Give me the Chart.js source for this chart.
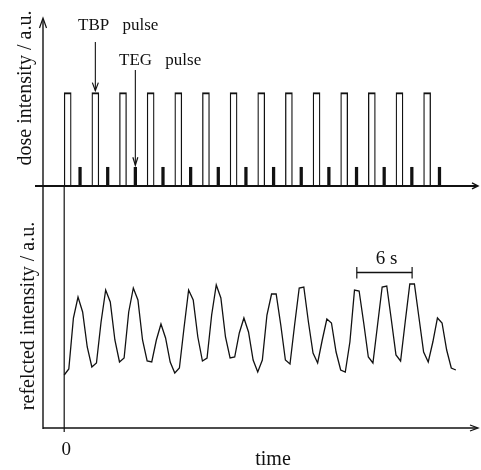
<!DOCTYPE html>
<html>
<head>
<meta charset="utf-8">
<script src="https://cdn.jsdelivr.net/npm/chart.js@4.4.1/dist/chart.umd.min.js"></script>
<style>
  html, body { margin: 0; padding: 0; background: #ffffff; }
  #wrap { width: 481px; height: 470px; position: relative; }
  canvas { display: block; }
</style>
</head>
<body>
<div id="wrap"><canvas id="c" width="481" height="470"></canvas></div>
<script>
// ---------------- data ----------------
// TBP pulses: start times (s), length and dose level (a.u.)
const tbpPulseStarts = [0, 3, 6, 9, 12, 15, 18, 21, 24, 27, 30, 33, 36, 39];
const TBP_PULSE_LENGTH = 0.76;
const TBP_DOSE = 1.0;
// TEG pulses: centre times (s) and dose level (a.u.)
const tegPulseCenters = [1.72, 4.72, 7.72, 10.72, 13.72, 16.72, 19.72, 22.72, 25.72, 28.72, 31.72, 34.72, 37.72, 40.72];
const TEG_DOSE = 0.2;
// reflected intensity, sampled every SAMPLE_INTERVAL seconds from t = 0
const SAMPLE_INTERVAL = 0.5;
const reflectedIntensity = [
  0.53, 0.59, 1.10, 1.31, 1.16, 0.81, 0.61, 0.65, 1.06, 1.38,
  1.26, 0.88, 0.66, 0.70, 1.16, 1.40, 1.28, 0.88, 0.67, 0.66,
  0.88, 1.04, 0.90, 0.66, 0.55, 0.60, 1.00, 1.38, 1.28, 0.91,
  0.67, 0.70, 1.13, 1.43, 1.30, 0.91, 0.70, 0.71, 0.95, 1.10,
  0.96, 0.68, 0.56, 0.68, 1.13, 1.34, 1.34, 1.03, 0.68, 0.64,
  1.03, 1.40, 1.41, 1.06, 0.75, 0.65, 0.88, 1.09, 1.05, 0.76,
  0.58, 0.56, 0.86, 1.38, 1.37, 1.05, 0.71, 0.65, 1.03, 1.41,
  1.42, 1.08, 0.73, 0.67, 1.06, 1.44, 1.44, 1.10, 0.76, 0.66,
  0.86, 1.10, 1.05, 0.78, 0.60, 0.58
];
// 6 s scale bar (time from / to, level on the reflected-intensity scale)
const scaleBarTimes = [31.75, 37.75];
const SCALE_BAR_LEVEL = 1.555;
const SCALE_BAR_LABEL = '6 s';
// texts
const xTickLabels = ['0'];
const X_TITLE = 'time';
const DOSE_TITLE = 'dose intensity / a.u.';
const REFL_TITLE = 'refelcted intensity / a.u.';
const TBP_LABEL = 'TBP pulse';
const TEG_LABEL = 'TEG pulse';
const TBP_MARKED = 1;   // index of the TBP pulse pointed at
const TEG_MARKED = 2;   // index of the TEG pulse pointed at

// ---------------- build datasets ----------------
const tbpData = tbpPulseStarts.map(s => ({ x: s + TBP_PULSE_LENGTH / 2, y: TBP_DOSE }));
const tegData = tegPulseCenters.map(c => ({ x: c, y: TEG_DOSE }));
const reflData = reflectedIntensity.map((v, i) => ({ x: i * SAMPLE_INTERVAL, y: v }));

const INK = '#111111';
const SERIF = "'Liberation Serif', 'DejaVu Serif', 'Times New Roman', serif";

function strokeLine(ctx, x1, y1, x2, y2, w) {
  ctx.lineWidth = w;
  ctx.beginPath(); ctx.moveTo(x1, y1); ctx.lineTo(x2, y2); ctx.stroke();
}
function arrowDown(ctx, x, y, len, half, w) {
  ctx.lineWidth = w;
  ctx.beginPath(); ctx.moveTo(x - half, y - len); ctx.lineTo(x, y); ctx.lineTo(x + half, y - len); ctx.stroke();
}
function arrowUp(ctx, x, y, len, half, w) {
  ctx.lineWidth = w;
  ctx.beginPath(); ctx.moveTo(x - half, y + len); ctx.lineTo(x, y); ctx.lineTo(x + half, y + len); ctx.stroke();
}
function arrowRight(ctx, x, y, len, half, w) {
  ctx.lineWidth = w;
  ctx.beginPath(); ctx.moveTo(x - len, y - half); ctx.lineTo(x, y); ctx.lineTo(x - len, y + half); ctx.stroke();
}

const sketchPlugin = {
  id: 'sketchAxes',
  afterDatasetsDraw(chart) {
    const { ctx, chartArea: a, scales } = chart;
    const xs = scales.x, yd = scales.yDose, yr = scales.yRefl;
    const x0 = xs.getPixelForValue(0);
    const yBase = yd.getPixelForValue(0);
    ctx.save();
    ctx.strokeStyle = INK; ctx.fillStyle = INK; ctx.lineCap = 'butt';

    // left axis with arrow
    strokeLine(ctx, a.left, a.bottom + 1, a.left, a.top + 1, 1.4);
    arrowUp(ctx, a.left, a.top, 10, 3.5, 1.2);
    // dose baseline with arrow
    strokeLine(ctx, a.left - 8, yBase, a.right - 1, yBase, 2);
    arrowRight(ctx, a.right, yBase, 6, 3, 1.4);
    // bottom time axis with arrow
    strokeLine(ctx, a.left, a.bottom, a.right - 1, a.bottom, 1.6);
    arrowRight(ctx, a.right, a.bottom, 8, 3, 1.3);
    // t = 0 line
    strokeLine(ctx, x0, yBase, x0, a.bottom + 4, 1.2);

    // x tick label and title
    ctx.font = '19px ' + SERIF;
    ctx.textAlign = 'center'; ctx.textBaseline = 'alphabetic';
    ctx.fillText(xTickLabels[0], x0 + 2, a.bottom + 27);
    ctx.font = '20px ' + SERIF;
    ctx.fillText(X_TITLE, 273, 465);

    // y titles (rotated)
    ctx.font = '20px ' + SERIF;
    ctx.save(); ctx.translate(31, 88); ctx.rotate(-Math.PI / 2);
    ctx.fillText(DOSE_TITLE, 0, 0); ctx.restore();
    ctx.save(); ctx.translate(33.5, 316); ctx.rotate(-Math.PI / 2);
    ctx.fillText(REFL_TITLE, 0, 0); ctx.restore();

    // TBP annotation
    const tbpX = xs.getPixelForValue(tbpData[TBP_MARKED].x);
    const tbpTop = yd.getPixelForValue(TBP_DOSE) - 2;
    strokeLine(ctx, tbpX, 42, tbpX, tbpTop, 1.1);
    arrowDown(ctx, tbpX, tbpTop, 8, 3, 1.2);
    ctx.font = '17px ' + SERIF; ctx.textAlign = 'left';
    try { ctx.wordSpacing = '9px'; } catch (e) {}
    ctx.fillText(TBP_LABEL, 78, 30);
    // TEG annotation
    const tegX = xs.getPixelForValue(tegData[TEG_MARKED].x);
    const tegTop = yd.getPixelForValue(TEG_DOSE) - 2;
    strokeLine(ctx, tegX, 70, tegX, tegTop, 1.1);
    arrowDown(ctx, tegX, tegTop, 8, 2.5, 1.2);
    ctx.fillText(TEG_LABEL, 119, 65);
    try { ctx.wordSpacing = '0px'; } catch (e) {}

    // 6 s scale bar
    const sx1 = xs.getPixelForValue(scaleBarTimes[0]);
    const sx2 = xs.getPixelForValue(scaleBarTimes[1]);
    const sy = yr.getPixelForValue(SCALE_BAR_LEVEL);
    strokeLine(ctx, sx1, sy, sx2, sy, 1.5);
    strokeLine(ctx, sx1, sy - 5.5, sx1, sy + 6, 1.2);
    strokeLine(ctx, sx2, sy - 5.5, sx2, sy + 6, 1.2);
    ctx.font = '19px ' + SERIF; ctx.textAlign = 'center';
    ctx.fillText(SCALE_BAR_LABEL, (sx1 + sx2) / 2 + 2, sy - 9);

    ctx.restore();
  }
};

new Chart(document.getElementById('c'), {
  type: 'bar',
  data: {
    datasets: [
      {
        label: 'TBP',
        data: tbpData,
        xAxisID: 'x', yAxisID: 'yDose',
        backgroundColor: '#ffffff',
        borderColor: INK,
        borderWidth: { top: 2, left: 1.3, right: 1.3, bottom: 0 },
        borderSkipped: 'bottom',
        barThickness: 7,
        grouped: false
      },
      {
        label: 'TEG',
        data: tegData,
        xAxisID: 'x', yAxisID: 'yDose',
        backgroundColor: INK,
        borderWidth: 0,
        barThickness: 2.6,
        grouped: false
      },
      {
        type: 'line',
        label: 'reflected',
        data: reflData,
        xAxisID: 'x', yAxisID: 'yRefl',
        borderColor: INK,
        borderWidth: 1.3,
        pointRadius: 0,
        tension: 0,
        fill: false
      }
    ]
  },
  options: {
    responsive: false,
    animation: false,
    devicePixelRatio: 1,
    layout: { padding: { left: 43, right: 3, top: 18, bottom: 42 } },
    plugins: { legend: { display: false }, tooltip: { enabled: false } },
    scales: {
      x: { type: 'linear', min: -2.3, max: 44.9, offset: false, display: false },
      yDose: { type: 'linear', min: -2.594, max: 1.8, display: false },
      yRefl: { type: 'linear', min: 0, max: 4.1, display: false }
    }
  },
  plugins: [sketchPlugin]
});
</script>
</body>
</html>
